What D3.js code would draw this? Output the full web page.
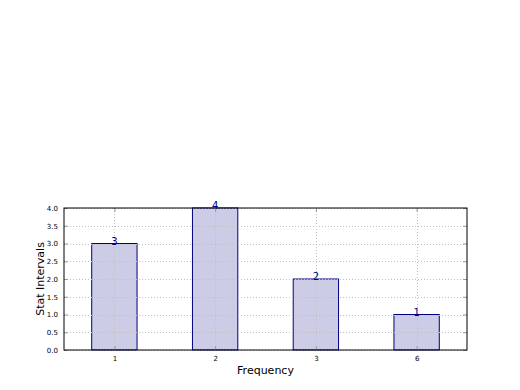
<!DOCTYPE html>
<html><head><meta charset="utf-8">
<script src="https://cdn.jsdelivr.net/npm/d3@7"></script>
<style>body{margin:0;background:#fff}svg{display:block}</style>
</head><body>
<svg id="c" width="520" height="390"></svg>
<script>
const categories = ["1","2","3","6"];
const values = [3,4,2,1];
const yTicks = [0,0.5,1,1.5,2,2.5,3,3.5,4];

const W=520,H=390;
const m={l:64,r:53,t:208,b:40};
const svg=d3.select("#c");
const pw=W-m.l-m.r, ph=H-m.t-m.b;
const g=svg.append("g").attr("transform",`translate(${m.l},${m.t})`);

const x=d3.scaleLinear().domain([-0.5,categories.length-0.5]).range([0,pw]);
const y=d3.scaleLinear().domain([0,4]).range([ph,0]);
const bw=x(0.45)-x(0);

g.append("rect").attr("width",pw).attr("height",ph).attr("fill","#fff");

// bars
g.selectAll("rect.bar").data(values).enter().append("rect")
 .attr("class","bar")
 .attr("x",(d,i)=>x(i)-bw/2).attr("y",d=>y(d))
 .attr("width",bw).attr("height",d=>y(0)-y(d))
 .attr("fill","#ccccE6").attr("stroke","#000080").attr("stroke-width",1);

// grid
const grid=g.append("g").attr("stroke","#c0c0c0").attr("stroke-width",1).attr("stroke-dasharray","1,2");
grid.selectAll("line.gy").data(yTicks).enter().append("line")
 .attr("x1",0).attr("x2",pw).attr("y1",d=>Math.round(y(d))+0.5).attr("y2",d=>Math.round(y(d))+0.5);
grid.selectAll("line.gx").data(categories).enter().append("line")
 .attr("y1",0).attr("y2",ph).attr("x1",(d,i)=>Math.round(x(i))+0.5).attr("x2",(d,i)=>Math.round(x(i))+0.5);

// axes (ticks inward)
const yAxL=d3.axisLeft(y).tickValues(yTicks).tickFormat(d3.format(".1f")).tickSizeInner(-4).tickSizeOuter(0).tickPadding(6);
const yAxR=d3.axisRight(y).tickValues(yTicks).tickFormat("").tickSizeInner(-4).tickSizeOuter(0);
const xAxB=d3.axisBottom(x).tickValues(d3.range(categories.length)).tickFormat((d)=>categories[d]).tickSizeInner(-4).tickSizeOuter(0).tickPadding(6);
const xAxT=d3.axisTop(x).tickValues(d3.range(categories.length)).tickFormat("").tickSizeInner(-4).tickSizeOuter(0);
function style(sel){
  sel.select(".domain").remove();
  sel.selectAll(".tick line").attr("stroke","#999");
  sel.selectAll("text").attr("font-family","DejaVu Sans").attr("font-size",7).attr("fill","#000");
}
g.append("g").call(yAxL).call(style);
g.append("g").attr("transform",`translate(${pw},0)`).call(yAxR).call(style);
g.append("g").attr("transform",`translate(0,${ph})`).call(xAxB).call(style);
g.append("g").call(xAxT).call(style);

// frame
g.append("rect").attr("width",pw).attr("height",ph).attr("fill","none").attr("stroke","#000").attr("stroke-width",1);

// bar labels
g.selectAll("text.lbl").data(values).enter().append("text")
 .attr("x",(d,i)=>x(i)).attr("y",d=>y(d)+1)
 .attr("text-anchor","middle").attr("font-family","DejaVu Sans").attr("font-size",10)
 .attr("fill","#000080").text(d=>d);

// axis labels
svg.append("text").attr("x",m.l+pw/2).attr("y",374).attr("text-anchor","middle")
 .attr("font-family","DejaVu Sans").attr("font-size",11).text("Frequency");
svg.append("text").attr("transform",`translate(44,${m.t+ph/2}) rotate(-90)`).attr("text-anchor","middle")
 .attr("font-family","DejaVu Sans").attr("font-size",11).text("Stat Intervals");
</script>
</body></html>
